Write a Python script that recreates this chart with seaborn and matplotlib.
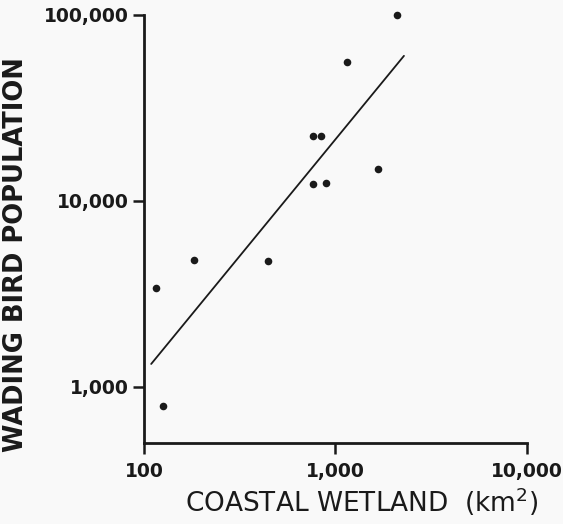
import numpy as np
import pandas as pd
import matplotlib
matplotlib.use("Agg")
import matplotlib.pyplot as plt
import seaborn as sns


# ============================================
# DATA
# ============================================

wetland_km2 = [116, 126, 182, 444, 763, 840, 763, 893, 1148, 1667, 2095]
bird_population = [3400, 790, 4820, 4750, 22300, 22300, 12340, 12500, 55900, 14860, 100000]

# regression line end points (log-log fit drawn in the original)
fit_wetland = [109, 2280]
fit_population = [1330, 60300]

x_ticks = [100, 1000, 10000]
x_tick_labels = ["100", "1,000", "10,000"]
y_ticks = [1000, 10000, 100000]
y_tick_labels = ["1,000", "10,000", "100,000"]


# ============================================
# STYLE
# ============================================

sns.set_style("ticks")
plt.rcParams["font.family"] = ["DejaVu Sans"]

ink = "#1a1a1a"
paper = "#f9f9f9"

df = pd.DataFrame({
    "wetland": wetland_km2,
    "population": bird_population
})

fit_df = pd.DataFrame({
    "wetland": fit_wetland,
    "population": fit_population
})


# ============================================
# FIGURE
# ============================================

fig = plt.figure(
    figsize=(5.63, 5.24),
    dpi=100,
    facecolor=paper
)

ax = fig.add_axes([0.2558, 0.1546, 0.680, 0.8168])
ax.set_facecolor(paper)

sns.scatterplot(
    data=df,
    x="wetland",
    y="population",
    color=ink,
    s=30,
    edgecolor=ink,
    linewidth=0,
    clip_on=False,
    zorder=3,
    ax=ax
)

sns.lineplot(
    data=fit_df,
    x="wetland",
    y="population",
    color=ink,
    linewidth=1.3,
    ax=ax
)

ax.set_xscale("log")
ax.set_yscale("log")
ax.set_xlim(100, 10000)
ax.set_ylim(500, 100000)

ax.set_xticks(x_ticks)
ax.set_xticklabels(x_tick_labels)
ax.set_yticks(y_ticks)
ax.set_yticklabels(y_tick_labels)
ax.minorticks_off()

for label in ax.get_xticklabels() + ax.get_yticklabels():
    label.set_fontweight("bold")
    label.set_fontsize(13.5)
    label.set_color(ink)

ax.tick_params(
    axis="both",
    direction="out",
    length=8,
    width=1.8,
    color=ink
)
ax.tick_params(axis="x", pad=6)
ax.tick_params(axis="y", pad=3)

sns.despine(ax=ax)
for side in ["left", "bottom"]:
    ax.spines[side].set_linewidth(2)
    ax.spines[side].set_color(ink)

ax.set_xlabel(
    "COASTAL WETLAND  (km$^2$)",
    fontsize=19,
    color=ink
)
ax.set_ylabel(
    "WADING BIRD POPULATION",
    fontsize=18.5,
    fontweight="bold",
    color=ink
)
ax.xaxis.set_label_coords(0.567, -0.10)
ax.yaxis.set_label_coords(-0.30, 0.44)

fig.savefig(
    "out.png",
    dpi=100,
    facecolor=paper
)
